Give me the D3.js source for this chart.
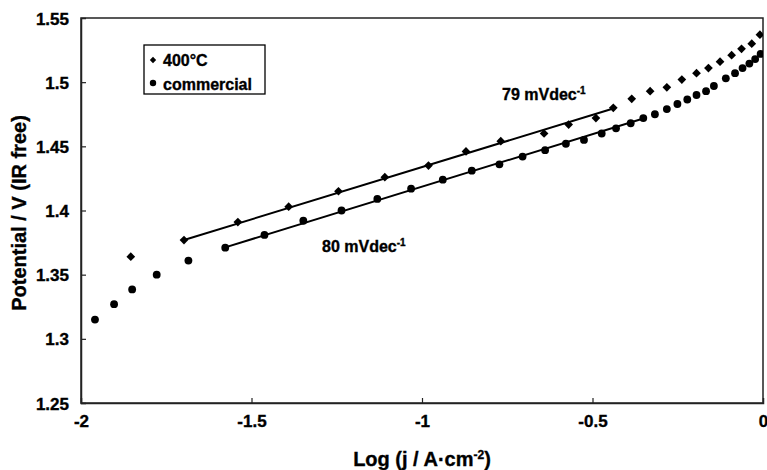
<!DOCTYPE html>
<html>
<head>
<meta charset="utf-8">
<script src="https://cdn.jsdelivr.net/npm/d3@7"></script>
<style>
  body { margin: 0; background: #fff; }
  svg text { font-family: "Liberation Sans", Arial, sans-serif; font-weight: bold; fill: #000; stroke: #000; stroke-width: 0.35px; }
</style>
</head>
<body>
<div id="chart"></div>
<script>
// 400°C sample (diamonds)
const diamondX = [-1.854, -1.698, -1.540, -1.391, -1.245, -1.109, -0.981, -0.871, -0.769, -0.642, -0.570, -0.490,
  -0.439, -0.385, -0.331, -0.282, -0.238, -0.195, -0.160, -0.126, -0.092, -0.063, -0.033, -0.009];
const diamondY = [1.364, 1.377, 1.391, 1.403, 1.415, 1.426, 1.435, 1.446, 1.454, 1.460, 1.467, 1.472,
  1.480, 1.487, 1.493, 1.496, 1.502, 1.507, 1.511, 1.516, 1.521, 1.526, 1.530, 1.537];

// commercial sample (circles)
const circleX = [-1.959, -1.903, -1.850, -1.778, -1.685, -1.577, -1.462, -1.348, -1.236, -1.131, -1.032, -0.939,
  -0.854, -0.773, -0.705, -0.639, -0.578, -0.525, -0.473, -0.431, -0.388, -0.351, -0.317, -0.282, -0.251,
  -0.222, -0.195, -0.167, -0.144, -0.109, -0.082, -0.060, -0.040, -0.023, -0.007];
const circleY = [1.315, 1.327, 1.3385, 1.350, 1.361, 1.371, 1.381, 1.392, 1.400, 1.409, 1.417, 1.424,
  1.431, 1.436, 1.442, 1.447, 1.452, 1.455, 1.460, 1.464, 1.468, 1.472, 1.475, 1.479, 1.483,
  1.4865, 1.490, 1.493, 1.497, 1.503, 1.507, 1.511, 1.5145, 1.518, 1.522];

// Tafel fit lines (end points)
const fitDiamondX = [-1.698, -0.439];
const fitDiamondY = [1.377, 1.4795];
const fitCircleX = [-1.577, -0.351];
const fitCircleY = [1.3713, 1.4717];

const xTicks = [-2, -1.5, -1, -0.5, 0];
const yTicks = [1.25, 1.3, 1.35, 1.4, 1.45, 1.5, 1.55];

const width = 767;
const height = 470;
const margin = { top: 18, right: 4, bottom: 67, left: 81 };

const svg = d3.select("#chart").append("svg")
    .attr("width", width)
    .attr("height", height);

const x = d3.scaleLinear().domain([-2, 0]).range([margin.left, width - margin.right]);
const y = d3.scaleLinear().domain([1.25, 1.55]).range([height - margin.bottom, margin.top]);

svg.append("clipPath").attr("id", "plot")
  .append("rect")
    .attr("x", margin.left).attr("y", margin.top)
    .attr("width", x(0) - x(-2)).attr("height", y(1.25) - y(1.55));

// frame
svg.append("rect")
    .attr("x", x(-2)).attr("y", y(1.55))
    .attr("width", x(0) - x(-2)).attr("height", y(1.25) - y(1.55))
    .attr("fill", "none")
    .attr("stroke", "#222")
    .attr("stroke-width", 1.5);

// axes with inward ticks, plain hyphen for negatives
const fmt = d => String(d);
const xAxis = svg.append("g")
    .attr("transform", `translate(0,${y(1.25)})`)
    .call(d3.axisBottom(x).tickValues(xTicks).tickSize(-5).tickPadding(12).tickFormat(fmt));
const yAxis = svg.append("g")
    .attr("transform", `translate(${x(-2)},0)`)
    .call(d3.axisLeft(y).tickValues(yTicks).tickSize(-5).tickPadding(12).tickFormat(fmt));

[xAxis, yAxis].forEach(a => {
  a.select(".domain").attr("stroke", "#222").attr("stroke-width", 1.5);
  a.selectAll(".tick line").attr("stroke", "#222").attr("stroke-width", 1.2);
  a.selectAll(".tick text").attr("font-size", 17).attr("font-family", "Liberation Sans, Arial, sans-serif")
    .attr("font-weight", "bold").attr("fill", "#000");
});
xAxis.selectAll(".tick text").attr("dy", "0.71em");
yAxis.selectAll(".tick text").attr("dy", "0.36em");
// hide end ticks that sit on the frame
xAxis.selectAll(".tick line").filter(d => d === -2 || d === 0).remove();
yAxis.selectAll(".tick line").filter(d => d === 1.25 || d === 1.55).remove();

const plot = svg.append("g").attr("clip-path", "url(#plot)");

const line = d3.line().x(d => x(d[0])).y(d => y(d[1]));

plot.append("path")
    .attr("d", line(d3.zip(fitDiamondX, fitDiamondY)))
    .attr("fill", "none").attr("stroke", "#000").attr("stroke-width", 2);
plot.append("path")
    .attr("d", line(d3.zip(fitCircleX, fitCircleY)))
    .attr("fill", "none").attr("stroke", "#000").attr("stroke-width", 2);

const diamond = d3.symbol(d3.symbolSquare, 38);

plot.selectAll(".dia")
  .data(d3.zip(diamondX, diamondY))
  .join("path")
    .attr("d", diamond)
    .attr("transform", d => `translate(${x(d[0])},${y(d[1])}) rotate(45)`)
    .attr("fill", "#000");

plot.selectAll(".cir")
  .data(d3.zip(circleX, circleY))
  .join("circle")
    .attr("cx", d => x(d[0]))
    .attr("cy", d => y(d[1]))
    .attr("r", 3.9)
    .attr("fill", "#000");

// legend
const legend = svg.append("g");
legend.append("rect")
    .attr("x", 144).attr("y", 45).attr("width", 121).attr("height", 49)
    .attr("fill", "#fff").attr("stroke", "#000").attr("stroke-width", 1.3);
legend.append("path")
    .attr("d", d3.symbol(d3.symbolSquare, 20))
    .attr("transform", "translate(153,60) rotate(45)");
legend.append("text").attr("x", 163).attr("y", 66).attr("font-size", 16).text("400°C");
legend.append("circle").attr("cx", 153).attr("cy", 83).attr("r", 3.2);
legend.append("text").attr("x", 163).attr("y", 90).attr("font-size", 16).text("commercial");

// slope annotations
function slopeLabel(px, py, value) {
  const t = svg.append("text").attr("x", px).attr("y", py).attr("font-size", 16);
  t.append("tspan").text(value + " mVdec");
  t.append("tspan").attr("dy", -6).attr("font-size", 10).text("-1");
}
slopeLabel(502, 100, 79);
slopeLabel(322, 252, 80);

// axis titles
const xt = svg.append("text")
    .attr("x", (x(-2) + x(0)) / 2)
    .attr("y", 466)
    .attr("text-anchor", "middle")
    .attr("font-size", 20);
xt.append("tspan").text("Log (j / A·cm");
xt.append("tspan").attr("dy", -7).attr("font-size", 12).text("-2");
xt.append("tspan").attr("dy", 7).text(")");

svg.append("text")
    .attr("transform", `translate(26,213) rotate(-90)`)
    .attr("text-anchor", "middle")
    .attr("font-size", 20)
    .text("Potential / V (IR free)");
</script>
</body>
</html>
